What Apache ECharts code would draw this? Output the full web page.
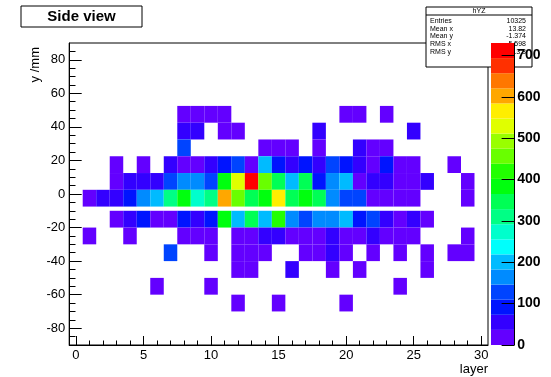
<!DOCTYPE html>
<html>
<head>
<meta charset="utf-8">
<script src="https://cdn.jsdelivr.net/npm/echarts@6/dist/echarts.min.js"></script>
<style>
  html, body { margin: 0; padding: 0; background: #fff; }
  #chart { width: 551px; height: 377px; }
</style>
</head>
<body>
<div id="chart"></div>
<script>
// hYZ: hit counts per layer (x) and transverse position y [mm]
const _ = null;

// tick labels
const xTickLabels = [0, 5, 10, 15, 20, 25, 30];
const yTickLabels = [-80, -60, -40, -20, 0, 20, 40, 60, 80];
const zTickLabels = [0, 100, 200, 300, 400, 500, 600, 700];
const zMax = 730;

// y bin edges [mm] of each row, top to bottom
const rowLow  = [42.5, 32.5, 22.5, 12.5, 2.5, -7.5, -20, -30, -40, -50, -60, -70];
const rowHigh = [52.5, 42.5, 32.5, 22.5, 12.5, 2.5, -10, -20, -30, -40, -50, -60];

// counts for layers 0..30 in each y row (null = empty bin)
const countsY47  = [_,_,_,_,_,_,_,_,12,9,15,7,_,_,_,_,_,_,_,_,4,6,_,3,_,_,_,_,_,_,_];
const countsY37  = [_,_,_,_,_,_,_,_,48,52,_,22,18,_,_,_,_,_,44,_,_,_,_,_,_,41,_,_,_,_,_];
const countsY27  = [_,_,_,_,_,_,_,_,121,_,_,_,_,_,25,19,28,_,14,_,_,47,11,16,_,_,_,_,_,_,_];
const countsY17  = [_,_,_,9,_,13,_,55,30,26,62,88,131,33,196,95,58,84,51,118,91,45,21,79,17,8,_,_,5,_,_];
const countsY7   = [_,_,_,24,49,57,61,137,168,159,126,390,528,730,452,342,205,349,97,171,190,32,64,56,29,22,43,_,_,6,_];
const countsYm2  = [_,23,59,66,101,172,214,318,386,281,305,607,463,352,395,571,338,379,356,163,133,119,35,31,26,18,_,_,_,7,_];
const countsYm15 = [_,_,_,11,41,83,34,29,104,68,93,374,201,347,188,412,177,142,155,160,209,78,114,50,27,39,10,_,_,_,_];
const countsYm25 = [_,6,_,_,14,_,_,_,31,24,20,_,30,35,46,53,33,28,25,40,34,27,38,21,19,13,_,_,_,5,_];
const countsYm35 = [_,_,_,_,_,_,_,112,_,_,16,_,23,29,18,_,_,12,17,37,21,_,10,_,8,_,6,_,4,9,_];
const countsYm45 = [_,_,_,_,_,_,_,_,_,_,_,_,15,20,_,_,38,_,_,13,_,11,_,_,_,_,7,_,_,_,_];
const countsYm55 = [_,_,_,_,_,_,3,_,_,_,8,_,_,_,_,_,_,_,_,_,_,_,_,_,4,_,_,_,_,_,_];
const countsYm65 = [_,_,_,_,_,_,_,_,_,_,_,_,5,_,_,6,_,_,_,_,3,_,_,_,_,_,_,_,_,_,_];

const rows = [countsY47, countsY37, countsY27, countsY17, countsY7, countsYm2,
              countsYm15, countsYm25, countsYm35, countsYm45, countsYm55, countsYm65];

// statistics box
const statNames  = ['Entries', 'Mean x', 'Mean y', 'RMS x', 'RMS y'];
const statValues = ['10325', '13.82', '-1.374', '5.598', '13.3'];

// violet -> red palette, 20 contour levels
const palette = ['#6300ff', '#3300ff', '#0014ff', '#0044ff', '#008bff',
                 '#00bbff', '#00fffc', '#00ffcc', '#00ff85', '#00ff55',
                 '#00ff0e', '#22ff00', '#69ff00', '#99ff00', '#e0ff00',
                 '#ffee00', '#ffa700', '#ff7700', '#ff3000', '#ff0000'];
const nLevels = palette.length;
const dz = zMax / nLevels;

const FONT = '"Liberation Sans", Arial, Helvetica, sans-serif';

// cells: [layer, yLow, yHigh, count]
const cells = [];
rows.forEach((counts, r) => {
  counts.forEach((v, layer) => {
    if (v !== null) cells.push([layer, rowLow[r], rowHigh[r], v]);
  });
});

const bands = palette.map((c, k) => [k]);

const minorX = [];
for (let i = 0; i <= 30; i++) minorX.push(i);
const minorY = [];
for (let i = -85; i <= 85; i += 5) minorY.push(i);

function renderCell(params, api) {
  const layer = api.value(0);
  const p0 = api.coord([layer - 0.5, api.value(2)]);
  const p1 = api.coord([layer + 0.5, api.value(1)]);
  return {
    type: 'rect',
    shape: { x: p0[0], y: p0[1], width: p1[0] - p0[0], height: p1[1] - p0[1] },
    style: { fill: api.visual('color') }
  };
}

function renderBand(params, api) {
  const k = api.value(0);
  const p0 = api.coord([0, (k + 1) * dz]);
  const p1 = api.coord([1, k * dz]);
  return {
    type: 'rect',
    shape: { x: p0[0], y: p0[1], width: p1[0] - p0[0], height: p1[1] - p0[1] },
    style: { fill: palette[k] }
  };
}

const lineStyle = { color: '#000', width: 1 };
const tickLabel = { color: '#000', fontSize: 13, fontFamily: FONT };

const chart = echarts.init(document.getElementById('chart'), null, { renderer: 'canvas' });

const statGraphics = [
  { type: 'rect', z: 5, shape: { x: 426, y: 7, width: 106, height: 60 },
    style: { fill: '#fff', stroke: '#000', lineWidth: 1 } },
  { type: 'line', z: 5, shape: { x1: 426, y1: 15, x2: 532, y2: 15 },
    style: { stroke: '#000', lineWidth: 1 } },
  { type: 'text', z: 6, x: 479, y: 11.5,
    style: { text: 'hYZ', font: '7px ' + FONT, fill: '#000', textAlign: 'center', textVerticalAlign: 'middle' } }
];
statNames.forEach((name, i) => {
  const y = 20.7 + i * 7.9;
  statGraphics.push({ type: 'text', z: 6, x: 430, y: y,
    style: { text: name, font: '7px ' + FONT, fill: '#000', textAlign: 'left', textVerticalAlign: 'middle' } });
  statGraphics.push({ type: 'text', z: 6, x: 526, y: y,
    style: { text: statValues[i], font: '7px ' + FONT, fill: '#000', textAlign: 'right', textVerticalAlign: 'middle' } });
});

chart.setOption({
  animation: false,
  backgroundColor: '#fff',
  grid: [
    { left: 69.2, top: 43, width: 418.8, height: 302, show: true, borderColor: '#000', borderWidth: 1, backgroundColor: 'transparent' },
    { left: 491, top: 43, width: 23.3, height: 302, show: false }
  ],
  xAxis: [
    { gridIndex: 0, type: 'value', min: -0.5, max: 30.5, position: 'bottom',
      axisLine: { show: true, onZero: false, lineStyle: lineStyle },
      axisTick: { show: true, inside: true, length: 9, customValues: xTickLabels, lineStyle: lineStyle },
      axisLabel: Object.assign({ customValues: xTickLabels, margin: 4 }, tickLabel),
      splitLine: { show: false } },
    { gridIndex: 0, type: 'value', min: -0.5, max: 30.5, position: 'bottom',
      axisLine: { show: false, onZero: false },
      axisTick: { show: true, inside: true, length: 4.5, customValues: minorX, lineStyle: lineStyle },
      axisLabel: { show: false }, splitLine: { show: false } },
    { gridIndex: 1, type: 'value', min: 0, max: 1, show: false,
      axisLine: { onZero: false } }
  ],
  yAxis: [
    { gridIndex: 0, type: 'value', min: -90, max: 90, position: 'left',
      axisLine: { show: true, onZero: false, lineStyle: lineStyle },
      axisTick: { show: true, inside: true, length: 12.5, customValues: yTickLabels, lineStyle: lineStyle },
      axisLabel: Object.assign({ customValues: yTickLabels, margin: 4 }, tickLabel),
      splitLine: { show: false } },
    { gridIndex: 0, type: 'value', min: -90, max: 90, position: 'left',
      axisLine: { show: false, onZero: false },
      axisTick: { show: true, inside: true, length: 6.3, customValues: minorY, lineStyle: lineStyle },
      axisLabel: { show: false }, splitLine: { show: false } },
    { gridIndex: 1, type: 'value', min: 0, max: zMax, position: 'right', z: 12,
      axisLine: { show: true, onZero: false, lineStyle: lineStyle },
      axisTick: { show: true, inside: true, length: 12.7, customValues: zTickLabels, lineStyle: lineStyle },
      axisLabel: Object.assign({ customValues: zTickLabels, margin: 3 }, tickLabel, { fontSize: 14, fontWeight: 'bold' }),
      splitLine: { show: false } }
  ],
  visualMap: {
    type: 'piecewise', show: false, seriesIndex: 0, dimension: 3,
    pieces: palette.map((c, k) => k === nLevels - 1
      ? { gte: k * dz, lte: zMax, color: c }
      : { gte: k * dz, lt: (k + 1) * dz, color: c })
  },
  series: [
    { type: 'custom', name: 'hYZ', xAxisIndex: 0, yAxisIndex: 0, z: 2,
      renderItem: renderCell, encode: { x: 0, y: [1, 2] }, data: cells },
    { type: 'custom', name: 'palette', xAxisIndex: 2, yAxisIndex: 2, z: 10,
      renderItem: renderBand, data: bands }
  ],
  graphic: [
    { type: 'rect', z: 5, shape: { x: 21, y: 6, width: 121, height: 21 },
      style: { fill: '#fff', stroke: '#000', lineWidth: 1 } },
    { type: 'text', z: 6, x: 81.5, y: 16.5,
      style: { text: 'Side view', font: 'bold 15px ' + FONT, fill: '#000', textAlign: 'center', textVerticalAlign: 'middle' } },
    { type: 'text', z: 6, x: 35, y: 47, rotation: Math.PI / 2,
      style: { text: 'y /mm', font: '13px ' + FONT, fill: '#000', textAlign: 'right', textVerticalAlign: 'middle' } },
    { type: 'text', z: 6, x: 488, y: 369,
      style: { text: 'layer', font: '13px ' + FONT, fill: '#000', textAlign: 'right', textVerticalAlign: 'middle' } }
  ].concat(statGraphics)
});
</script>
</body>
</html>
